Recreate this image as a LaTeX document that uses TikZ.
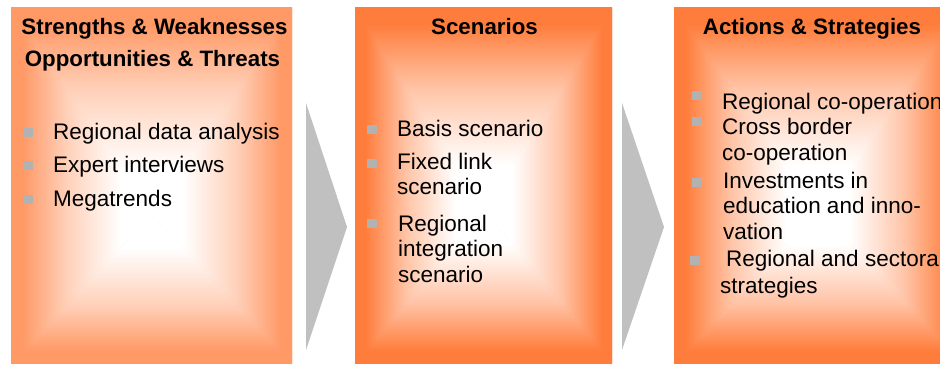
\documentclass[tikz,border=0pt]{standalone}
\usepackage{fontspec}
\setmainfont{Liberation Sans}
\definecolor{orA}{HTML}{FF9966}
\definecolor{orB}{HTML}{FF7D3C}
\definecolor{arrowgray}{HTML}{C0C0C0}
\definecolor{bulgray}{HTML}{B2B2B2}
\pgfdeclareverticalshading{rampA}{100bp}{color(0bp)=(white); color(36bp)=(white); color(55bp)=(orA!45!white); color(71bp)=(orA); color(100bp)=(orA)}
\pgfdeclareverticalshading{rampB}{100bp}{color(0bp)=(white); color(36bp)=(white); color(55bp)=(orB!45!white); color(71bp)=(orB); color(100bp)=(orB)}
\newcommand\gradbox[5]{%
  \coordinate (gA) at (#2); \coordinate (gB) at (#3); \coordinate (gC) at (#4);
  \shade[inner color=white, outer color=#5] (gA) rectangle (gB);
  \shade[shading=#1,shading angle=0] (gA) -- (gA -| gB) -- (gC) -- cycle;
  \shade[shading=#1,shading angle=180] (gA |- gB) -- (gB) -- (gC) -- cycle;
  \shade[shading=#1,shading angle=90] (gA) -- (gA |- gB) -- (gC) -- cycle;
  \shade[shading=#1,shading angle=270] (gA -| gB) -- (gB) -- (gC) -- cycle;
}
\tikzset{
  tl/.style={font=\fontsize{22.3}{26}\selectfont\bfseries, anchor=base, inner sep=0pt},
  tx/.style={font=\fontsize{22.5}{26}\selectfont, anchor=base west, inner sep=0pt},
  bul/.style={fill=bulgray, minimum width=10pt, minimum height=9pt, inner sep=0pt},
  chev/.style={fill=arrowgray},
}
\begin{document}
\begin{tikzpicture}[x=1pt,y=-1pt]
\clip (0,0) rectangle (940,366);
\fill[white] (0,0) rectangle (940,366);
% boxes
\gradbox{rampA}{11,8}{292,363}{151.5,215}{orA}
\gradbox{rampB}{355,8}{612,363}{483.5,210}{orB}
\gradbox{rampB}{674,8}{962,363}{818,210}{orB}
% chevrons
\coordinate (c1t) at (306,103); \coordinate (c1p) at (347,227); \coordinate (c1b) at (306,350);
\fill[chev] (c1t) -- (c1p) -- (c1b) -- cycle;
\coordinate (c2t) at (622,103); \coordinate (c2p) at (664,227); \coordinate (c2b) at (622,350);
\fill[chev] (c2t) -- (c2p) -- (c2b) -- cycle;
% box 1
\node[tl] (t1a) at (154.5,35) {Strengths \& Weaknesses};
\node[tl] (t1b) at (152.5,67) {Opportunities \& Threats};
\node[bul] (b1a) at (27.5,133) {};
\node[bul] (b1b) at (27.5,166) {};
\node[bul] (b1c) at (27.5,200) {};
\node[tx] (l1a) at (53,139.5) {Regional data analysis};
\node[tx] (l1b) at (53,172.5) {Expert interviews};
\node[tx] (l1c) at (53,206.5) {Megatrends};
% box 2
\node[tl] (t2) at (484.5,35) {Scenarios};
\node[bul] (b2a) at (372,130) {};
\node[bul] (b2b) at (372,164) {};
\node[bul] (b2c) at (372,224) {};
\node[tx] (l2a) at (397,137) {Basis scenario};
\node[tx] (l2b) at (397,170) {Fixed link};
\node[tx] (l2c) at (397,195) {scenario};
\node[tx] (l2d) at (398,232) {Regional};
\node[tx] (l2e) at (398,257) {integration};
\node[tx] (l2f) at (398,283) {scenario};
% box 3
\node[tl] (t3) at (812,35) {Actions \& Strategies};
\node[bul] (b3a) at (697,96) {};
\node[bul] (b3b) at (697,122) {};
\node[bul] (b3c) at (697,183) {};
\node[bul] (b3d) at (695,261) {};
\node[tx] (l3a) at (722,110) {Regional co-operation};
\node[tx] (l3b) at (722,135) {Cross border};
\node[tx] (l3c) at (722,161) {co-operation};
\node[tx] (l3d) at (723,189) {Investments in};
\node[tx] (l3e) at (723,214) {education and inno-};
\node[tx] (l3f) at (723,240) {vation};
\node[tx] (l3g) at (726,267) {Regional and sectoral};
\node[tx] (l3h) at (720,294) {strategies};
\end{tikzpicture}
\end{document}
